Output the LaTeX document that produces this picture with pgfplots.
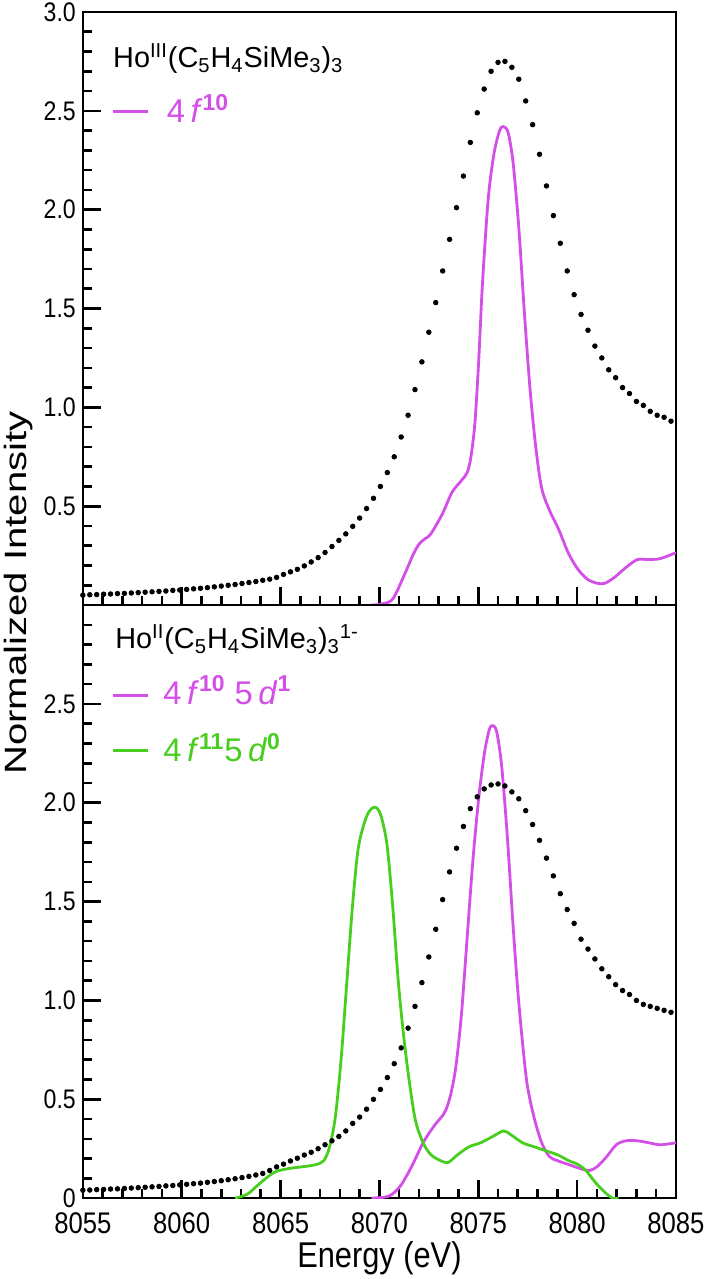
\documentclass[border=0pt]{standalone}
\usepackage{fontspec}
\setmainfont{Liberation Sans}
\newfontfamily\condfont{Liberation Sans}[FakeStretch=0.86]
\newfontfamily\ylabfont{Liberation Sans}[FakeStretch=1.3]
\usepackage{pgfplots}
\pgfplotsset{compat=1.18}
\usetikzlibrary{calc}
\definecolor{mag}{RGB}{212,78,232}
\definecolor{grn}{RGB}{72,206,30}
\pgfplotsset{
  myaxis/.style={
    scale only axis, width=297bp, height=297bp,
    xmin=8055, xmax=8085, ymin=0, ymax=3,
    xtick={8055,8060,...,8085},
    minor xtick={8055,8056,...,8085},
    minor ytick={0,0.1,...,3},
    tick align=inside, xtick pos=bottom, ytick pos=left,
    major tick length=9bp, minor tick length=4.5bp,
    tick style={black, line width=1.3bp},
    axis line style={black, line width=1.3bp},
    /pgf/number format/assume math mode=true,
    xticklabel style={font=\condfont\fontsize{15}{15}\selectfont, yshift=-4bp},
    yticklabel style={font=\condfont\fontsize{13.5}{13.5}\selectfont},
  },
  dots/.style={only marks, mark=*, mark size=1.15bp, black},
}
\begin{document}
\begin{tikzpicture}
\begin{axis}[myaxis, name=top,
  xticklabels={},
  ytick={0.5,1,1.5,2,2.5,3},
  yticklabels={0.5,1.0,1.5,2.0,2.5,3.0}]
\addplot[dots] coordinates {
(8055.00,0.050)(8055.35,0.052)(8055.70,0.053)(8056.05,0.055)(8056.40,0.056)
(8056.75,0.058)(8057.10,0.059)(8057.45,0.061)(8057.80,0.063)(8058.15,0.065)
(8058.50,0.067)(8058.85,0.069)(8059.20,0.071)(8059.55,0.074)(8059.90,0.076)
(8060.25,0.079)(8060.60,0.082)(8060.95,0.085)(8061.30,0.088)(8061.65,0.092)
(8062.00,0.096)(8062.35,0.100)(8062.70,0.104)(8063.05,0.109)(8063.40,0.114)
(8063.75,0.119)(8064.10,0.125)(8064.45,0.131)(8064.80,0.140)(8065.15,0.155)
(8065.50,0.168)(8065.85,0.181)(8066.20,0.198)(8066.55,0.218)(8066.90,0.240)
(8067.25,0.266)(8067.60,0.296)(8067.95,0.327)(8068.30,0.360)(8068.65,0.398)
(8069.00,0.440)(8069.35,0.488)(8069.70,0.540)(8070.05,0.600)(8070.40,0.670)
(8070.75,0.750)(8071.10,0.850)(8071.45,0.960)(8071.80,1.090)(8072.15,1.230)
(8072.50,1.380)(8072.85,1.530)(8073.20,1.690)(8073.55,1.850)(8073.90,2.010)
(8074.25,2.170)(8074.60,2.340)(8074.95,2.490)(8075.30,2.610)(8075.65,2.700)
(8076.00,2.745)(8076.35,2.750)(8076.70,2.720)(8077.05,2.660)(8077.40,2.550)
(8077.75,2.430)(8078.10,2.280)(8078.45,2.120)(8078.80,1.970)(8079.15,1.830)
(8079.50,1.690)(8079.85,1.570)(8080.20,1.470)(8080.55,1.390)(8080.90,1.310)
(8081.25,1.250)(8081.60,1.190)(8081.95,1.150)(8082.30,1.100)(8082.65,1.070)
(8083.00,1.030)(8083.35,1.010)(8083.70,0.980)(8084.05,0.960)(8084.40,0.950)
(8084.75,0.930)};
\addplot[mag, line width=1.4bp, smooth] coordinates {
(8069.6,0)(8070.1,0.005)(8070.67,0.03)(8071.25,0.15)(8071.73,0.26)(8072.02,0.31)
(8072.3,0.335)(8072.6,0.36)(8073.18,0.46)(8073.67,0.57)(8074.15,0.63)(8074.44,0.67)
(8074.63,0.75)(8074.83,0.92)(8075.02,1.23)(8075.21,1.62)(8075.5,2.05)(8075.79,2.28)
(8076.08,2.40)(8076.28,2.42)(8076.51,2.39)(8076.76,2.24)(8077.05,1.91)(8077.34,1.47)
(8077.63,1.08)(8077.92,0.79)(8078.21,0.59)(8078.6,0.48)(8079.08,0.38)(8079.57,0.26)
(8080.05,0.18)(8080.53,0.13)(8081.02,0.11)(8081.4,0.11)(8081.89,0.14)(8082.47,0.19)
(8083.05,0.23)(8083.63,0.23)(8084.21,0.235)(8085,0.265)};
\node[anchor=base west, inner sep=0, font=\fontsize{14.5}{14.5}\selectfont]
  at (rel axis cs:0.0505,0.906)
  {Ho\textsuperscript{III}(C\textsubscript{5}H\textsubscript{4}SiMe\textsubscript{3})\textsubscript{3}};
\draw[mag, line width=1.5bp] (rel axis cs:0.0505,0.832) -- (rel axis cs:0.109,0.832);
\node[anchor=base west, inner sep=0, text=mag, font=\fontsize{16.5}{16.5}\selectfont]
  at (rel axis cs:0.141,0.813)
  {4\,\textit{f}\textsuperscript{\textbf{10}}};
\end{axis}
\begin{axis}[myaxis, name=bot, at={(top.south west)}, anchor=north west,
  xticklabels={8055,8060,8065,8070,8075,8080,8085},
  ytick={0,0.5,1,1.5,2,2.5},
  yticklabels={0,0.5,1.0,1.5,2.0,2.5},
  xlabel={Energy (eV)},
  xlabel style={font=\condfont\fontsize{18}{18}\selectfont,
    at={(axis description cs:0.5,0)}, anchor=center, yshift=-30bp}]
\addplot[dots] coordinates {
(8055.00,0.040)(8055.35,0.041)(8055.70,0.043)(8056.05,0.044)(8056.40,0.046)
(8056.75,0.047)(8057.10,0.049)(8057.45,0.051)(8057.80,0.053)(8058.15,0.055)
(8058.50,0.057)(8058.85,0.059)(8059.20,0.062)(8059.55,0.064)(8059.90,0.067)
(8060.25,0.070)(8060.60,0.073)(8060.95,0.076)(8061.30,0.080)(8061.65,0.084)
(8062.00,0.088)(8062.35,0.093)(8062.70,0.098)(8063.05,0.104)(8063.40,0.110)
(8063.75,0.117)(8064.10,0.125)(8064.45,0.140)(8064.80,0.158)(8065.15,0.172)
(8065.50,0.188)(8065.85,0.202)(8066.20,0.218)(8066.55,0.232)(8066.90,0.250)
(8067.25,0.270)(8067.60,0.290)(8067.95,0.312)(8068.30,0.340)(8068.65,0.378)
(8069.00,0.410)(8069.35,0.450)(8069.70,0.500)(8070.05,0.550)(8070.40,0.610)
(8070.75,0.680)(8071.10,0.760)(8071.45,0.860)(8071.80,0.970)(8072.15,1.090)
(8072.50,1.220)(8072.85,1.360)(8073.20,1.510)(8073.55,1.650)(8073.90,1.770)
(8074.25,1.880)(8074.60,1.970)(8074.95,2.030)(8075.30,2.070)(8075.65,2.090)
(8076.00,2.095)(8076.35,2.085)(8076.70,2.055)(8077.05,2.020)(8077.40,1.960)
(8077.75,1.890)(8078.10,1.810)(8078.45,1.720)(8078.80,1.630)(8079.15,1.540)
(8079.50,1.460)(8079.85,1.390)(8080.20,1.310)(8080.55,1.260)(8080.90,1.210)
(8081.25,1.160)(8081.60,1.120)(8081.95,1.080)(8082.30,1.050)(8082.65,1.030)
(8083.00,1.000)(8083.35,0.980)(8083.70,0.970)(8084.05,0.960)(8084.40,0.950)
(8084.75,0.940)};
\addplot[mag, line width=1.4bp, smooth] coordinates {
(8069.6,0)(8070.47,0.01)(8071.05,0.06)(8071.63,0.16)(8072.21,0.28)(8072.8,0.37)
(8073.28,0.43)(8073.57,0.51)(8073.86,0.66)(8074.15,0.93)(8074.44,1.32)(8074.73,1.71)
(8075.02,2.02)(8075.31,2.25)(8075.56,2.37)(8075.73,2.39)(8075.93,2.36)(8076.18,2.19)
(8076.47,1.83)(8076.76,1.38)(8077.05,0.99)(8077.44,0.60)(8077.82,0.41)(8078.21,0.28)
(8078.6,0.21)(8078.99,0.19)(8079.57,0.17)(8080.15,0.15)(8080.63,0.14)(8081.02,0.16)
(8081.5,0.21)(8081.98,0.27)(8082.47,0.29)(8083.05,0.29)(8083.63,0.28)(8084.21,0.27)
(8085,0.28)};
\addplot[grn, line width=1.4bp, smooth] coordinates {
(8062.7,0)(8063.32,0.02)(8063.9,0.07)(8064.67,0.13)(8065.44,0.15)(8066.22,0.16)
(8066.8,0.17)(8067.19,0.19)(8067.48,0.26)(8067.77,0.41)(8068.06,0.70)(8068.35,1.09)
(8068.64,1.48)(8068.93,1.77)(8069.31,1.92)(8069.6,1.97)(8069.85,1.975)(8070.09,1.93)
(8070.38,1.79)(8070.67,1.48)(8070.96,1.09)(8071.25,0.80)(8071.54,0.57)(8071.83,0.39)
(8072.21,0.28)(8072.6,0.22)(8073.09,0.19)(8073.47,0.18)(8073.96,0.22)(8074.54,0.26)
(8075.12,0.28)(8075.7,0.31)(8076.28,0.34)(8076.66,0.32)(8077.24,0.28)(8077.82,0.26)
(8078.4,0.24)(8078.99,0.22)(8079.57,0.19)(8080.05,0.17)(8080.44,0.14)(8080.92,0.08)
(8081.4,0.03)(8081.79,0.0)(8082.1,0)};
\node[anchor=base west, inner sep=0, font=\fontsize{14.5}{14.5}\selectfont]
  at (rel axis cs:0.054,0.926)
  {Ho\textsuperscript{II}(C\textsubscript{5}H\textsubscript{4}SiMe\textsubscript{3})\textsubscript{3}\textsuperscript{1-}};
\draw[mag, line width=1.5bp] (rel axis cs:0.0505,0.847) -- (rel axis cs:0.109,0.847);
\node[anchor=base west, inner sep=0, text=mag, font=\fontsize{16.5}{16.5}\selectfont]
  at (rel axis cs:0.135,0.833)
  {4\,\textit{f}\textsuperscript{\textbf{10}} 5\,\textit{d}\textsuperscript{\textbf{1}}};
\draw[grn, line width=1.5bp] (rel axis cs:0.0505,0.754) -- (rel axis cs:0.109,0.754);
\node[anchor=base west, inner sep=0, text=grn, font=\fontsize{16.5}{16.5}\selectfont]
  at (rel axis cs:0.135,0.736)
  {4\,\textit{f}\textsuperscript{\textbf{11}}5\,\textit{d}\textsuperscript{\textbf{0}}};
\end{axis}
\node[rotate=90, inner sep=0pt, font=\ylabfont\fontsize{15.5}{15.5}\selectfont]
  at ($(top.south west)+(-32bp,6bp)$) {Normalized Intensity};
\pgfresetboundingbox
\path ($(top.north west)+(-41.5bp,6bp)$) rectangle ($(bot.south east)+(15.5bp,-40.5bp)$);
\end{tikzpicture}
\end{document}
